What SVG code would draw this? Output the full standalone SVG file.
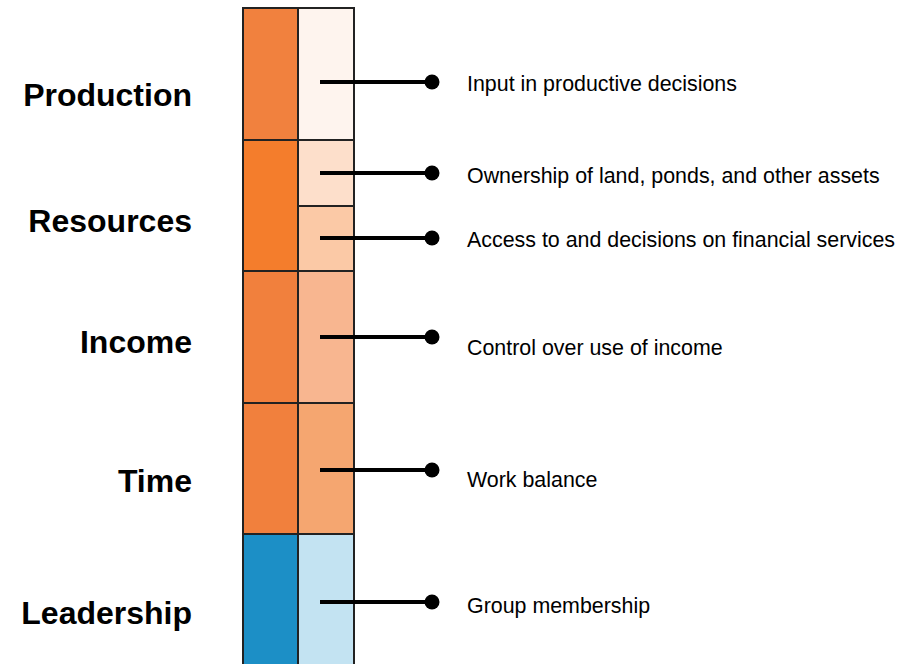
<svg xmlns="http://www.w3.org/2000/svg" width="922" height="664" viewBox="0 0 922 664">
<style>
.cell{stroke:#222;stroke-width:2}
.lab{font-family:"Liberation Sans",Arial,sans-serif;font-weight:bold;font-size:32px;fill:#000;text-anchor:end}
.txt{font-family:"Liberation Sans",Arial,sans-serif;font-size:21.4px;fill:#000}
.con{stroke:#000;stroke-width:4;fill:none}
.dot{fill:#000}
</style>
<rect width="922" height="664" fill="#fff"/>
<g id="production">
<rect class="cell" x="243" y="8" width="55" height="132" fill="#F1813E"/>
<rect class="cell" x="298" y="8" width="56" height="132" fill="#FEF4EE"/>
<text class="lab" x="192" y="106">Production</text>
<text class="txt" x="467" y="91">Input in productive decisions</text>
</g>
<g id="resources">
<rect class="cell" x="243" y="140" width="55" height="131" fill="#F47D2C"/>
<rect class="cell" x="298" y="140" width="56" height="66" fill="#FDDFCB"/>
<rect class="cell" x="298" y="206" width="56" height="65" fill="#FBC9A6"/>
<text class="lab" x="192" y="232">Resources</text>
<text class="txt" x="467" y="183">Ownership of land, ponds, and other assets</text>
<text class="txt" x="467" y="247">Access to and decisions on financial services</text>
</g>
<g id="income">
<rect class="cell" x="243" y="271" width="55" height="132" fill="#F1803D"/>
<rect class="cell" x="298" y="271" width="56" height="132" fill="#F8B690"/>
<text class="lab" x="192" y="353">Income</text>
<text class="txt" x="467" y="355">Control over use of income</text>
</g>
<g id="time">
<rect class="cell" x="243" y="403" width="55" height="131" fill="#F1803D"/>
<rect class="cell" x="298" y="403" width="56" height="131" fill="#F5A670"/>
<text class="lab" x="192" y="492">Time</text>
<text class="txt" x="467" y="487">Work balance</text>
</g>
<g id="leadership">
<rect class="cell" x="243" y="534" width="55" height="140" fill="#1C8FC6"/>
<rect class="cell" x="298" y="534" width="56" height="140" fill="#C3E3F2"/>
<text class="lab" x="192" y="624">Leadership</text>
<text class="txt" x="467" y="613">Group membership</text>
</g>
<g id="connectors">
<line class="con" x1="320" y1="82" x2="432" y2="82"/><circle class="dot" cx="432" cy="82" r="7.5"/>
<line class="con" x1="320" y1="173" x2="432" y2="173"/><circle class="dot" cx="432" cy="173" r="7.5"/>
<line class="con" x1="320" y1="238" x2="432" y2="238"/><circle class="dot" cx="432" cy="238" r="7.5"/>
<line class="con" x1="320" y1="337" x2="432" y2="337"/><circle class="dot" cx="432" cy="337" r="7.5"/>
<line class="con" x1="320" y1="470" x2="432" y2="470"/><circle class="dot" cx="432" cy="470" r="7.5"/>
<line class="con" x1="320" y1="602" x2="432" y2="602"/><circle class="dot" cx="432" cy="602" r="7.5"/>
</g>
</svg>
